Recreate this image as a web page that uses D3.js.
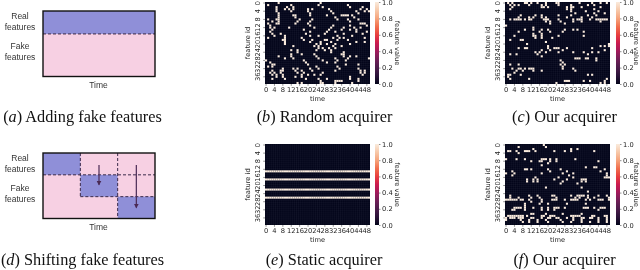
<!DOCTYPE html>
<html><head><meta charset="utf-8">
<script src="https://cdn.jsdelivr.net/npm/d3@7/dist/d3.min.js"></script>
<style>
html,body{margin:0;padding:0;background:#fff;overflow:hidden}
svg{display:block;filter:blur(0.3px)}
.tick text,.lab{font-family:"DejaVu Sans",sans-serif;font-size:6.7px;fill:#222}
.sch{font-family:"Liberation Sans",sans-serif;font-size:8.5px;fill:#333}
.cap{font-family:"Liberation Serif",serif;font-size:16.3px;fill:#111}
</style></head><body>
<svg id="c" width="640" height="270"></svg>
<script>
const timeTicks=[0,4,8,12,16,20,24,28,32,36,40,44,48];
const featureTicks=[0,4,8,12,16,20,24,28,32,36];
const colorbarTicks=[0,0.2,0.4,0.6,0.8,1];
const rocketStops=["#03051a","#2b1338","#4c1d4b","#701f57","#a11a5b","#cb1b4f","#e83f3f","#f1704e","#f6a47c","#f7c9aa","#faebdd"];
const nCols=50,nRows=40;
const randomRows=[
[6,26],[1,12,25,39],[5,10,13,27,40,46],[5,9,11,13,20,22,30,45,48],[5,12,20,31,43,47,49],[6,21,32,44],
[6,13,14,21,29,36,37,38,39,41],[6,14,33,42],[1,5,6,16,22,34,39,44],[3,6,15,21,40],[1,5,6,14,20,45,46,47],[2,21,32,40,48],
[2,4,11,23,31,37,42,45],[3,18,30,36,40,43],[2,21,29,33,43,48],[3,7,19,28,37,46],[4,9,21,25,34,41],[1,9,17,32,35,37,47],
[8,9,18,22,28,29,34,39],[9,21,26,31,43,47],[9,24,26,29,33,40],[13,23,25,32,36],[25,27,30,33],[12,15,24,28,31],
[15,31,37],[12,17,23,36,37],[6,12,24,37,40,43],[9,13,25,33,39,49],[0,18,27,34,38],[2,19,29,33],
[3,4,20,38,44],[1,3,24,34],[8,13,15,21,25,35,44],[3,7,8,14,17,22,33,45,47],[2,4,7,15,18,27,45,47],[3,5,8,17,20,23,26,46],
[5,8,14,17,40],[3,9,19,25,29,40,44],[26,33,34,35,36,44],[15,17,26,27,33,41]];
const ourRowsC=[
[1,3,9,10,12,15,19,24,25,35,41,45,48],[2,4,6,11,17,19,25,31,39,42],[3,17,18,20,29,31,32,36,45],[2,29,31,42],[31,38,44],[33,42,47],
[7,14,17,25,31,39,43],[6,11,13,17,19,29,36,41],[2,4,5,6,7,9,11,12,18,19,20,25,32,34,35,36,40,43,44,45,46,47,48],[19,21,26,32,36,45],[21,28],[0],
[13],[9,13,17,20,28,32,34],[6,16,21,27,37],[13,17],[4,13,14,17,25,37],[14,17,22],
[2,7,8],[19],[10,49],[20,45,47,49],[6,9,10,20,23,24,25,29,41],[17,21,27,47],
[14,16,19,25,32,37,41,44],[2,5,15,39],[17],[33,34,35,38,39,43],[26,43],[27],
[2,6,26,28],[27],[3,6,7,9,11,12,13,27,32],[5,8,13,17,33],[4],[1,2,7,39,41],
[1],[2,11,48],[28,29,30,37,40,47],[24,45,47]];
const staticRows=[13,17,22,26];
const ourRowsF=[
[18],[6,19],[13,31,34],[1,2,5,9,10,11,14,23,28,31,42],[6],[],
[],[0,5,9,17,18,19,21,24,33],[12,16,17,21,24,44],[20],[17],[38,42,43],
[9,10,12,20,26,47],[3,21,29,45],[0,4,17,27,32,48],[3,30,48],[14,25,32,47,48,49],[10,13,15,23,29,36,37,38],
[10,13,15,27,36,38],[26,34],[],[19,36],[],[39],
[],[2,11,15,22,23,31,34,35,36,37,39,44,48],[2,6,12,16,24,33,35,39,42,49],[0,1,2,3,4,5,7,8,11,17,22,23,24,28,31,32,33,34,38,40,44,45,46,49],[12,17],[9,16,20,29,38],
[9],[4,5,6,7,9,13,17,20,23,24,25,28,37,38,39,42,45,46,47],[3,4,9,17,20,23,44],[],[12,13,19,27,36],[1,2,3,4,5,6,7,8,10,17,18,21,22,23,31,32,33,34,35,41,42,47,48],
[0,2,3,4,6,7,8,12,13,17,20,21,24,25,29,32,36,37,40,41,44,48],[0,7,11,15,19,26,32,36,44,48],[8,11,15,20,27,31,36,40,44,48],[]];
const addReal=[[0,3,0,1.05]];
const shiftReal=[[0,1,0,1],[1,2,1,2],[2,3,2,3]];
const shiftDashH=[[0,3,1],[1,3,2]];
const shiftDashV=[[1,0,2],[2,0,3]];
const shiftArrows=[[1.5,0.55,1.45],[2.5,0.55,2.5]];
const realLabel=["Real","features"],fakeLabel=["Fake","features"];

const svg=d3.select("#c");
const color=d3.scaleLinear().domain(rocketStops.map((_,i)=>i/10)).range(rocketStops);
const defs=svg.append("defs");
const grad=defs.append("linearGradient").attr("id","rocket").attr("x1",0).attr("x2",0).attr("y1",1).attr("y2",0);
rocketStops.forEach((c,i)=>grad.append("stop").attr("offset",i/10).attr("stop-color",c));
defs.append("marker").attr("id","arr").attr("viewBox","0 0 10 10").attr("refX",8).attr("refY",5)
 .attr("markerWidth",4).attr("markerHeight",5).attr("orient","auto")
 .append("path").attr("d","M0,0L10,5L0,10z").attr("fill","#4a2a55");

function heat(rows,x0,y0,w,h,cbx,lx){
 const g=svg.append("g");
 const x=d3.scaleBand().domain(d3.range(nCols)).range([x0,x0+w]);
 const y=d3.scaleBand().domain(d3.range(nRows)).range([y0,y0+h]);
 g.append("rect").attr("x",x0).attr("y",y0).attr("width",w).attr("height",h).attr("fill",color(0));
 const cells=rows.flatMap((r,i)=>r.map(c=>[i,c]));
 g.selectAll(".cell").data(cells).join("rect").attr("x",d=>x(d[1])).attr("y",d=>y(d[0]))
  .attr("width",x.bandwidth()).attr("height",y.bandwidth()).attr("fill",color(1));
 g.selectAll(".gv").data(d3.range(1,nCols)).join("line").attr("x1",d=>x(d)).attr("x2",d=>x(d)).attr("y1",y0).attr("y2",y0+h)
  .attr("stroke","#fff").attr("stroke-opacity",.13).attr("stroke-width",.3);
 g.selectAll(".gh").data(d3.range(1,nRows)).join("line").attr("y1",d=>y(d)).attr("y2",d=>y(d)).attr("x1",x0).attr("x2",x0+w)
  .attr("stroke","#fff").attr("stroke-opacity",.13).attr("stroke-width",.3);
 const ax=g.append("g").attr("transform",`translate(0,${y0+h})`).call(d3.axisBottom(x).tickValues(timeTicks).tickSize(1.8).tickPadding(1.5));
 const ay=g.append("g").attr("transform",`translate(${x0},0)`).call(d3.axisLeft(y).tickValues(featureTicks).tickSize(1.8).tickPadding(1.5));
 [ax,ay].forEach(a=>{a.select(".domain").remove();a.selectAll("line").attr("stroke","#222").attr("stroke-width",.5);});
 ay.selectAll("text").attr("text-anchor","middle").attr("dy",0).attr("x",0).attr("y",0).attr("dominant-baseline","middle")
  .attr("transform","translate(-7,0) rotate(-90)");
 g.append("text").attr("class","lab").attr("text-anchor","middle").attr("x",x0+w/2).attr("y",y0+h+16.5).text("time");
 g.append("text").attr("class","lab").attr("text-anchor","middle").attr("transform",`translate(${x0-15},${y0+h/2}) rotate(-90)`).text("feature id");
 const cy=d3.scaleLinear().domain([0,1]).range([y0+h,y0]);
 g.append("rect").attr("x",cbx).attr("y",y0).attr("width",4).attr("height",h).attr("fill","url(#rocket)");
 const ac=g.append("g").attr("transform",`translate(${cbx+4},0)`).call(d3.axisRight(cy).tickValues(colorbarTicks).tickFormat(d3.format(".1f")).tickSize(1.5).tickPadding(1.5));
 ac.select(".domain").remove();ac.selectAll("line").attr("stroke","#222").attr("stroke-width",.5);
 g.append("text").attr("class","lab").attr("text-anchor","middle").attr("dominant-baseline","middle").attr("transform",`translate(${lx},${y0+h/2}) rotate(90)`).text("feature value");
}
const allCols=d3.range(nCols);
heat(randomRows,265,2,105,82,375,397);
heat(ourRowsC,505,2,105,82,616,636);
heat(d3.range(nRows).map(r=>staticRows.includes(r)?allCols:[]),265,144,105,81,375,397);
heat(ourRowsF,505,144,105,81,616,636);

function schem(y0,real,dashH,dashV,arrows){
 const g=svg.append("g");
 const x=d3.scaleLinear().domain([0,3]).range([43,155]);
 const y=d3.scaleLinear().domain([0,3]).range([y0,y0+65.5]);
 g.append("rect").attr("x",x(0)).attr("y",y(0)).attr("width",x(3)-x(0)).attr("height",y(3)-y(0)).attr("fill","#f7d0e3");
 g.selectAll(".r").data(real).join("rect").attr("x",d=>x(d[0])).attr("width",d=>x(d[1])-x(d[0])).attr("y",d=>y(d[2])).attr("height",d=>y(d[3])-y(d[2])).attr("fill","#8f8fd8");
 const dash=s=>s.attr("stroke","#3a2a4a").attr("stroke-width",1).attr("stroke-dasharray","3 2");
 g.selectAll(".h").data(dashH).join("line").attr("x1",d=>x(d[0])).attr("x2",d=>x(d[1])).attr("y1",d=>y(d[2])).attr("y2",d=>y(d[2])).call(dash);
 g.selectAll(".v").data(dashV).join("line").attr("x1",d=>x(d[0])).attr("x2",d=>x(d[0])).attr("y1",d=>y(d[1])).attr("y2",d=>y(d[2])).call(dash);
 g.selectAll(".a").data(arrows).join("line").attr("x1",d=>x(d[0])).attr("x2",d=>x(d[0])).attr("y1",d=>y(d[1])).attr("y2",d=>y(d[2]))
  .attr("stroke","#4a2a55").attr("stroke-width",1.2).attr("marker-end","url(#arr)");
 g.append("rect").attr("x",x(0)).attr("y",y(0)).attr("width",x(3)-x(0)).attr("height",y(3)-y(0)).attr("fill","none").attr("stroke","#111").attr("stroke-width",1.4);
 const t=(s,yy)=>g.append("text").attr("class","sch").attr("text-anchor","middle").attr("x",20).attr("y",yy).text(s);
 realLabel.forEach((s,i)=>t(s,y0+8+i*11));
 fakeLabel.forEach((s,i)=>t(s,y0+38+i*11));
 g.append("text").attr("class","sch").attr("text-anchor","middle").attr("x",98.5).attr("y",y0+76.5).text("Time");
}
schem(11,addReal,[[0,3,1.05]],[],[]);
schem(153,shiftReal,shiftDashH,shiftDashV,shiftArrows);

const caps=[["a"," Adding fake features",82.5,122],["b"," Random acquirer",324.5,122],["c"," Our acquirer",564.5,122],
["d"," Shifting fake features",82.5,264.5],["e"," Static acquirer",324,264.5],["f"," Our acquirer",564.5,264.5]];
caps.forEach(c=>{
 const t=svg.append("text").attr("class","cap").attr("text-anchor","middle").attr("x",c[2]).attr("y",c[3]);
 t.append("tspan").text("(");t.append("tspan").attr("font-style","italic").text(c[0]);t.append("tspan").text(")"+c[1]);
});
</script></body></html>
